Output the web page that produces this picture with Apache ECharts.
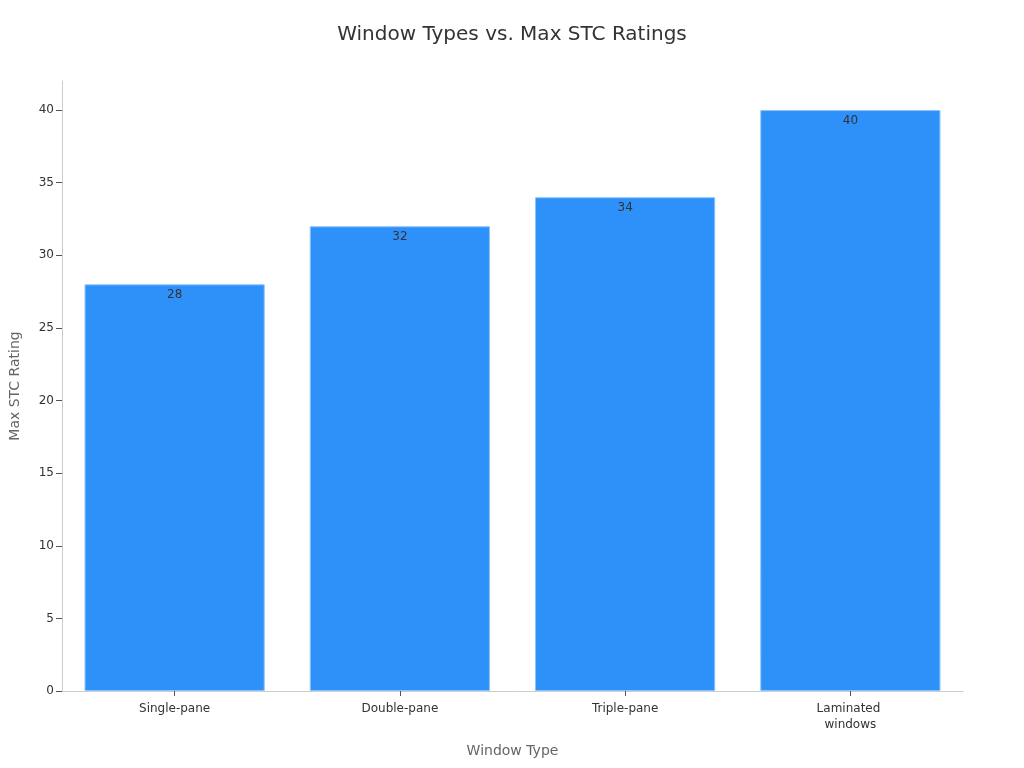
<!DOCTYPE html>
<html>
<head>
    <meta charset="UTF-8">
    <title>Window Types vs. Max STC Ratings</title>
    <script src="https://cdnjs.cloudflare.com/ajax/libs/echarts/6.0.0/echarts.min.js"></script>
    <style>
        html, body { margin: 0; padding: 0; background: #fff; }
        #chart { width: 1024px; height: 768px; }
    </style>
</head>
<body>
    <div id="chart"></div>
    <script>
        // data
        const categories = ['Single-pane', 'Double-pane', 'Triple-pane', 'Laminated windows'];
        const stcValues = [28, 32, 34, 40];
        const yTicks = [0, 5, 10, 15, 20, 25, 30, 35, 40];

        const myChart = echarts.init(document.getElementById('chart'));
        const font = 'DejaVu Sans, sans-serif';

        const option = {
            animation: false,
            title: {
                text: 'Window Types vs. Max STC Ratings',
                left: 'center',
                top: 20,
                textStyle: { fontFamily: font, fontSize: 20, fontWeight: 'normal', color: '#333' }
            },
            grid: { left: 60, right: 61, top: 81, bottom: 77 },
            xAxis: {
                type: 'category',
                data: categories,
                name: 'Window Type',
                nameLocation: 'middle',
                nameGap: 53,
                nameTextStyle: { fontFamily: font, fontSize: 14, color: '#666' },
                axisLine: { lineStyle: { color: '#ccc' } },
                axisTick: { show: true, alignWithLabel: true, lineStyle: { color: '#555', width: 1 }, length: 5 },
                axisLabel: {
                    fontFamily: font, fontSize: 12, color: '#333', margin: 10,
                    lineHeight: 16, width: 100, overflow: 'break', interval: 0
                }
            },
            yAxis: {
                type: 'value',
                min: 0,
                max: 42,
                name: 'Max STC Rating',
                nameLocation: 'middle',
                nameGap: 40,
                nameTextStyle: { fontFamily: font, fontSize: 14, color: '#666' },
                axisLine: { show: true, lineStyle: { color: '#ccc' } },
                axisTick: { show: true, customValues: yTicks, lineStyle: { color: '#555' }, length: 6 },
                axisLabel: { customValues: yTicks, fontFamily: font, fontSize: 12, color: '#333' },
                splitLine: { show: false }
            },
            series: [{
                type: 'bar',
                data: stcValues,
                barCategoryGap: '20%',
                itemStyle: { color: '#2E91FA', borderColor: '#8CC4FC', borderWidth: 1 },
                label: {
                    show: true,
                    position: 'insideTop',
                    fontFamily: font,
                    fontSize: 12,
                    color: '#333'
                }
            }]
        };

        myChart.setOption(option);
    </script>
</body>
</html>
